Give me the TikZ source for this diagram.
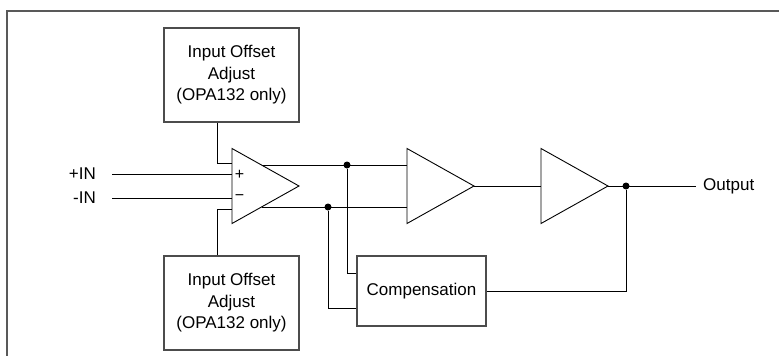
\documentclass[tikz,border=0pt]{standalone}
\usepackage{fontspec}
\setmainfont{Liberation Sans}
\usetikzlibrary{shapes.geometric,calc}

\begin{document}
\begin{tikzpicture}[x=1pt,y=-1pt]
\tikzstyle{box}=[rectangle,draw=black!70,line width=1.6pt,align=center,inner sep=0,font=\fontsize{17}{21.5}\selectfont]
\tikzstyle{amp}=[isosceles triangle,isosceles triangle stretches,draw=black,line width=0.9pt,inner sep=0,outer sep=0,minimum width=75,minimum height=67]
\tikzstyle{lbl}=[inner sep=0,font=\fontsize{17}{20}\selectfont]
\tikzstyle{pin}=[inner sep=0,font=\fontsize{16}{16}\selectfont]
\tikzstyle{wire}=[draw=black,line width=0.9pt]
\tikzstyle{dot}=[circle,fill=black,inner sep=0,minimum size=7]
\useasboundingbox (0,0) rectangle (779,356);
% frame
\draw [draw=black!65,line width=2.2pt] (7,357) -- (7,11) -- (780,11);
% blocks
\node [box,minimum width=135,minimum height=94] (offT) at (231.5,75) {Input Offset\\Adjust\\(OPA132 only)};
\node [box,minimum width=135,minimum height=94] (offB) at (231.5,303) {Input Offset\\Adjust\\(OPA132 only)};
\node [box,minimum width=129,minimum height=70] (comp) at (421.5,291) {Compensation};
\node [amp,anchor=west] (A1) at (232,186) {};
\node [amp,anchor=west] (A2) at (407,186) {};
\node [amp,anchor=west] (A3) at (541,186) {};
\node [pin] (plus) at (239.5,174.5) {+};
\node [pin] (minus) at (239.5,198) {−};
% labels
\node [lbl,anchor=east] (inP) at (96,174) {+IN};
\node [lbl,anchor=east] (inM) at (96,198) {-IN};
\node [lbl,anchor=west] (out) at (703,186) {Output};
% junctions
\node [dot] (d1) at (347,165) {};
\node [dot] (d2) at (328,207) {};
\node [dot] (d3) at (626,186) {};
\coordinate (inPs) at (112,174);
\coordinate (inMs) at (112,198);
\coordinate (o1) at ($(A1.west)+(30,-21)$);
\coordinate (o2) at ($(A1.west)+(30,21)$);
% wires
\draw [wire] (inPs) -- (inPs -| A1.west);
\draw [wire] (inMs) -- (inMs -| A1.west);
\draw [wire] ($(offT.south)+(-14.5,0)$) |- ($(A1.west)+(0,-23)$);
\draw [wire] ($(offB.north)+(-14.5,0)$) |- ($(A1.west)+(0,23)$);
\draw [wire] (o1) -- (o1 -| A2.west);
\draw [wire] (o2) -- (o2 -| A2.west);
\draw [wire] (d1) |- ($(comp.west)+(0,-18)$);
\draw [wire] (d2) |- ($(comp.west)+(0,17)$);
\draw [wire] (A2.apex) -- (A3.west);
\draw [wire] (A3.apex) -- ($(out.west)+(-7,0)$);
\draw [wire] (d3) |- (comp.east);
\end{tikzpicture}
\end{document}
